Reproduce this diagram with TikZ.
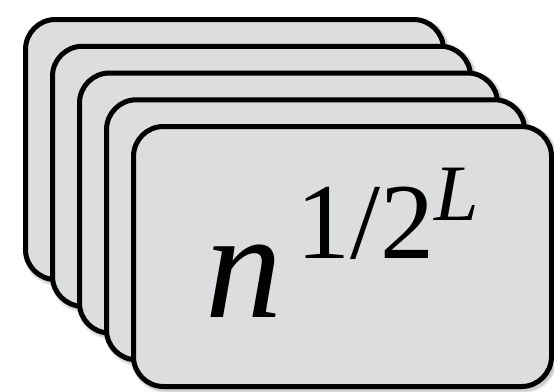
\documentclass[tikz,border=0pt]{standalone}
\usepackage{fontspec}
\setmainfont{Liberation Serif}
\definecolor{cardfill}{RGB}{220,221,223}
\tikzset{
  card/.style={draw=black, line width=5pt, fill=cardfill, rounded corners=30pt},
  cardshadow/.style={draw=black, draw opacity=0.07, fill=none, rounded corners=30pt},
  bigtxt/.style={anchor=base west, inner sep=0pt, text=black},
}
\begin{document}
\begin{tikzpicture}[x=1pt,y=-1pt]
\useasboundingbox (0,0) rectangle (554,391);
\foreach \i in {0,...,4}{
  \pgfmathsetmacro{\xa}{25.5+27*\i}
  \pgfmathsetmacro{\ya}{19.5+26.75*\i}
  \foreach \w in {9,7,5}{
    \draw[cardshadow, line width=\w pt] (\xa+2,\ya+2) rectangle ++(418,260);
  }
  \draw[card] (\xa,\ya) rectangle ++(418,260);
}
\node[bigtxt] (n) at (205,317) {\fontsize{154}{154}\selectfont\itshape n};
\node[bigtxt] (frac) at (296,258) {\fontsize{108}{108}\selectfont 1/2};
\node[bigtxt] (L) at (434,220) {\fontsize{80}{80}\selectfont\itshape L};
\end{tikzpicture}
\end{document}
